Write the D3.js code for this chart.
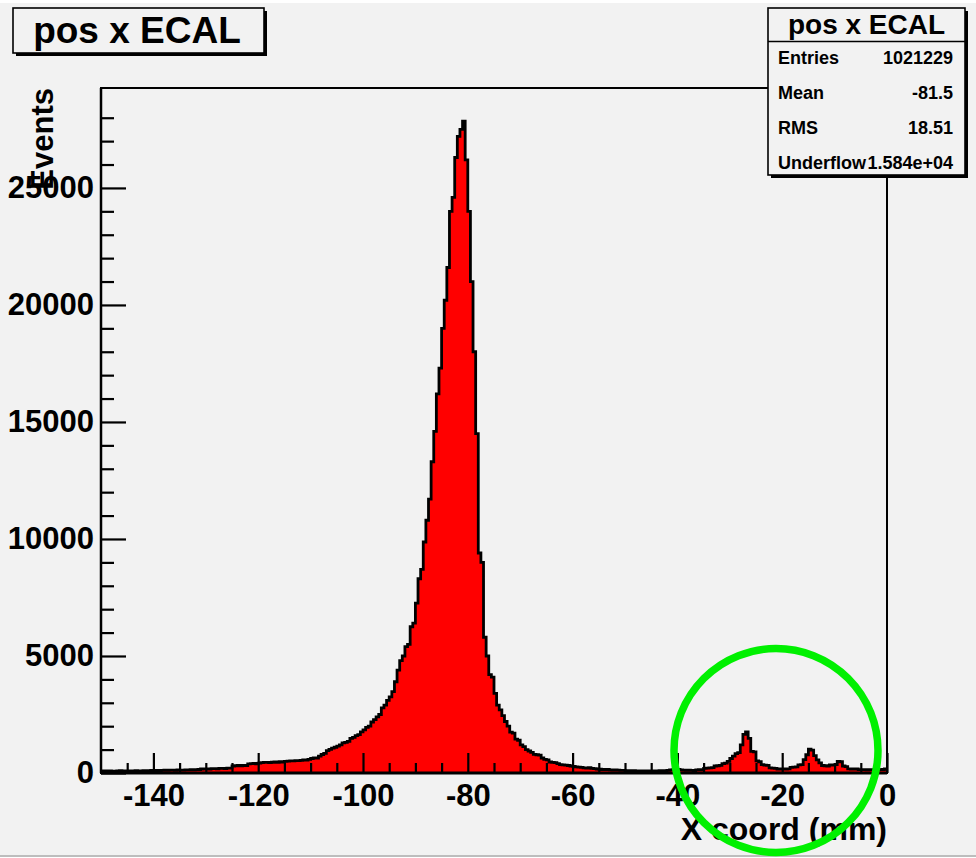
<!DOCTYPE html>
<html>
<head>
<meta charset="utf-8">
<script src="https://cdn.jsdelivr.net/npm/d3@7"></script>
<style>
  body { margin: 0; background: #ffffff; }
  svg { display: block; font-family: 'Liberation Sans', Arial, Helvetica, sans-serif; font-weight: bold; }
</style>
</head>
<body>
<svg width="976" height="858"></svg>
<script>
/* global d3 */
// histogram: 300 bins of 0.5 mm from -150 to 0
const binLow = -150;
const binWidth = 0.5;

// -150 .. -114.5
const tailLeft = [
    90, 70, 85, 95, 80, 75, 90, 100, 85, 80, 95, 90, 85, 100, 95, 90, 105, 100, 95, 110,
    105, 110, 100, 115, 120, 110, 120, 125, 115, 130, 120, 125, 135, 130, 140, 135, 145, 150,
    170, 175, 180, 170, 185, 190, 180, 195, 200, 190, 205, 210,
    300, 310, 320, 305, 330, 320,
    390, 400, 410, 395, 420,
    440, 450, 455, 445, 460, 470, 455, 480,
    470, 500, 510
];
// -114 .. -94
const riseSide = [
    520, 515, 530, 525, 540, 560, 550, 580, 620, 650, 640, 720, 790, 840, 960, 1010, 1060,
    1100, 1150, 1200, 1290, 1310, 1350, 1480, 1520, 1600, 1640, 1760, 1840, 1950, 2000,
    2180, 2280, 2400, 2500, 2780, 2900, 3100, 3250, 3480, 3900
];
// -93.5 .. -77.5
const peakCore = [
    4400, 4800, 5000, 5400, 5500, 6250, 6400, 7260, 8300, 8700, 9870, 10800, 11700, 13300,
    14600, 16200, 17300, 19000, 20200, 21600, 24000, 24600, 26300, 27200, 27500, 27850,
    26200, 24000, 21000, 18000, 14500, 9400, 9000
];
// -77 .. -40.5
const fallSide = [
    5800, 5000, 4200, 4100, 3400, 2900, 2700, 2450, 2200, 2000,
    1750, 1700, 1450, 1400, 1200, 1130, 1000, 940, 880, 800,
    780, 760, 640, 580, 560, 470, 450, 440, 400, 360,
    350, 340, 320, 300, 280, 260, 250, 240, 220, 210,
    230, 200, 190, 170, 160, 150, 140, 150, 130, 125,
    130, 120, 110, 115, 105, 100, 95, 100, 90, 95,
    90, 85, 95, 90, 85, 90, 95, 100, 95, 100,
    110, 130, 140, 145
];
// -40 .. -0.5
const rightBumps = [
    150, 130, 120, 110, 120, 110, 100, 130, 140, 130,
    200, 210, 220, 230, 300, 310, 330, 400, 420, 500,
    620, 720, 830, 870, 1200, 1650, 1760, 1480, 920, 900,
    520, 480, 360, 340, 330, 220, 210, 200, 170, 170,
    165, 170, 175, 240, 250, 260, 350, 360, 570, 780,
    1020, 980, 740, 560, 430, 320, 310, 300, 350, 340,
    360, 500, 480, 300, 270, 180, 170, 165, 170, 140,
    145, 140, 135, 140, 145, 140, 135, 140, 150, 170
];
const counts = tailLeft.concat(riseSide, peakCore, fallSide, rightBumps);

const xTicks = [-140, -120, -100, -80, -60, -40, -20, 0];
const yTicks = [0, 5000, 10000, 15000, 20000, 25000];
const titleText = 'pos x ECAL';
const statLabels = ['Entries', 'Mean', 'RMS', 'Underflow'];
const statValues = ['1021229', '-81.5', '18.51', '1.584e+04'];

const svg = d3.select('svg');
const width = +svg.attr('width');
const height = +svg.attr('height');

svg.append('rect')
    .attr('x', 0).attr('y', 3)
    .attr('width', width).attr('height', height - 5)
    .attr('fill', '#f2f2f2');
svg.append('line')
    .attr('x1', 0).attr('x2', width)
    .attr('y1', height - 2).attr('y2', height - 2)
    .attr('stroke', '#bdbdbd').attr('stroke-width', 2);

const x = d3.scaleLinear().domain([-150, 0]).range([101, 887]);
const y = d3.scaleLinear().domain([0, 29270]).range([773, 88]);

const bins = counts.map(function (c, i) {
    return {x0: binLow + i * binWidth, c: c};
});
bins.push({x0: binLow + counts.length * binWidth, c: counts[counts.length - 1]});

const area = d3.area()
    .curve(d3.curveStepAfter)
    .x(function (d) { return x(d.x0); })
    .y0(y(0))
    .y1(function (d) { return y(d.c); });

const outline = d3.line()
    .curve(d3.curveStepAfter)
    .x(function (d) { return x(d.x0); })
    .y(function (d) { return y(d.c); });

svg.append('path')
    .datum(bins)
    .attr('d', area)
    .attr('fill', '#ff0000');

svg.append('path')
    .datum(bins)
    .attr('d', outline)
    .attr('fill', 'none')
    .attr('stroke', '#000')
    .attr('stroke-width', 2.8);

// frame
svg.append('rect')
    .attr('x', x(-150)).attr('y', y.range()[1])
    .attr('width', x(0) - x(-150))
    .attr('height', y.range()[0] - y.range()[1])
    .attr('fill', 'none')
    .attr('stroke', '#000')
    .attr('stroke-width', 2);

function styleAxis(g, size) {
    g.select('.domain').remove();
    g.selectAll('.tick line').attr('stroke', '#000').attr('stroke-width', 2.2);
    g.selectAll('.tick text')
        .attr('fill', '#000')
        .style('font-size', size + 'px')
        .style('font-weight', 'bold');
}

// x axis
const xMinor = d3.range(-145, 0, 5).filter(function (v) { return v % 20 !== 0; });
svg.append('g')
    .attr('transform', 'translate(0,' + y(0) + ')')
    .call(d3.axisBottom(x).tickValues(xMinor).tickSize(-10).tickFormat(''))
    .call(function (g) { styleAxis(g, 30); });
svg.append('g')
    .attr('transform', 'translate(0,' + y(0) + ')')
    .call(d3.axisBottom(x).tickValues(xTicks).tickSize(-20).tickPadding(11).tickFormat(String))
    .call(function (g) { styleAxis(g, 31); });

// y axis
const yMinor = d3.range(1000, 29000, 1000).filter(function (v) { return v % 5000 !== 0; });
svg.append('g')
    .attr('transform', 'translate(' + x(-150) + ',0)')
    .call(d3.axisLeft(y).tickValues(yMinor).tickSize(-13).tickFormat(''))
    .call(function (g) { styleAxis(g, 30); });
svg.append('g')
    .attr('transform', 'translate(' + x(-150) + ',0)')
    .call(d3.axisLeft(y).tickValues(yTicks).tickSize(-25).tickPadding(7).tickFormat(String))
    .call(function (g) { styleAxis(g, 31); });

// axis lines
svg.append('line')
    .attr('x1', x(-150)).attr('x2', x(0))
    .attr('y1', y(0)).attr('y2', y(0))
    .attr('stroke', '#000').attr('stroke-width', 3);
svg.append('line')
    .attr('x1', x(-150)).attr('x2', x(-150))
    .attr('y1', y(0)).attr('y2', y.range()[1])
    .attr('stroke', '#000').attr('stroke-width', 2.5);

// axis titles
svg.append('text')
    .attr('x', x(0))
    .attr('y', 840)
    .attr('text-anchor', 'end')
    .style('font-size', '32px')
    .text('X coord (mm)');

svg.append('text')
    .attr('transform', 'translate(53,' + y.range()[1] + ') rotate(-90)')
    .attr('text-anchor', 'end')
    .style('font-size', '31px')
    .text('Events');

// title box
function shadowBox(x0, y0, w, h) {
    svg.append('rect')
        .attr('x', x0 + 3).attr('y', y0 + 3)
        .attr('width', w).attr('height', h)
        .attr('fill', '#000');
    svg.append('rect')
        .attr('x', x0).attr('y', y0)
        .attr('width', w).attr('height', h)
        .attr('fill', '#f2f2f2')
        .attr('stroke', '#000')
        .attr('stroke-width', 1.6);
}

shadowBox(13, 8, 251, 45);
svg.append('text')
    .attr('x', 137)
    .attr('y', 43)
    .attr('text-anchor', 'middle')
    .style('font-size', '37px')
    .text(titleText);

// stats box
const sx = 768, sy = 8, sw = 197, sh = 167;
shadowBox(sx, sy, sw, sh);
svg.append('line')
    .attr('x1', sx).attr('x2', sx + sw)
    .attr('y1', 41.5).attr('y2', 41.5)
    .attr('stroke', '#000').attr('stroke-width', 1.4);
svg.append('text')
    .attr('x', sx + sw / 2)
    .attr('y', 34)
    .attr('text-anchor', 'middle')
    .style('font-size', '28px')
    .text(titleText);

const rowY = d3.scalePoint().domain(statLabels).range([64, 169]);
statLabels.forEach(function (label, i) {
    svg.append('text')
        .attr('x', sx + 10)
        .attr('y', rowY(label))
        .style('font-size', '18px')
        .text(label);
    svg.append('text')
        .attr('x', sx + sw - 12)
        .attr('y', rowY(label))
        .attr('text-anchor', 'end')
        .style('font-size', '18px')
        .text(statValues[i]);
});

// highlight ring
svg.append('circle')
    .attr('cx', 776)
    .attr('cy', 750.5)
    .attr('r', 102)
    .attr('fill', 'none')
    .attr('stroke', '#00f000')
    .attr('stroke-width', 7.5);
</script>
</body>
</html>
